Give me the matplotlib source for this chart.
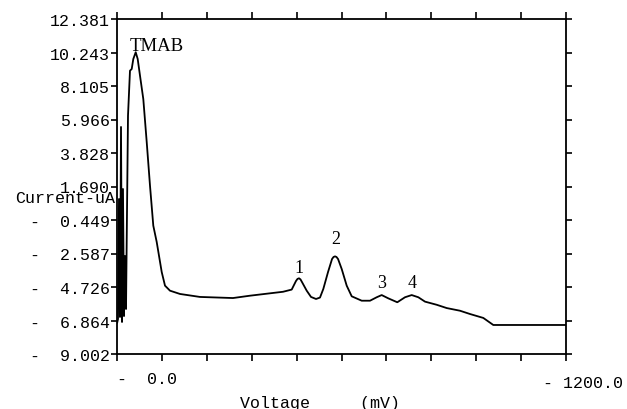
import numpy as np
import matplotlib.pyplot as plt
from matplotlib.transforms import ScaledTranslation

# voltage in mV (sweep runs 0 -> -1200, drawn as distance) and current in uA,
# read off the scanned recorder trace
voltage = [0.5, 2.7, 5.3, 8.0, 10.7, 13.4, 16.0, 18.7, 21.4, 24.1, 25.9, 29.4,
           34.7, 39.3, 43.6, 50.0, 55.3, 61.5, 70.3, 79.4, 88.2, 97.0, 106.1,
           119.5, 128.3, 141.6, 168.4, 221.8, 310.0, 355.5, 443.7, 466.9,
           478.4, 482.4, 486.4, 490.4, 494.4, 507.0, 518.5, 531.9, 542.5,
           551.4, 564.0, 574.7, 578.7, 582.7, 586.6, 590.8, 600.6, 613.9,
           627.3, 654.0, 676.2, 694.1, 707.4, 725.1, 749.1, 769.7, 787.6,
           805.3, 823.2, 854.4, 881.2, 916.7, 943.5, 979.0, 1005.7, 1200.0]
current = [-7.0, -6.77, 0.89, -6.64, 5.49, -6.96, 1.53, -6.58, -2.75, -6.13,
           -1.85, 6.21, 9.08, 9.19, 9.83, 10.26, 9.83, 8.76, 7.27, 4.53, 1.74,
           -0.81, -1.85, -3.77, -4.64, -4.96, -5.17, -5.36, -5.43, -5.28,
           -5.03, -4.89, -4.34, -4.21, -4.17, -4.24, -4.41, -4.96, -5.36,
           -5.49, -5.40, -4.85, -3.77, -2.94, -2.81, -2.77, -2.81, -2.94,
           -3.58, -4.64, -5.32, -5.60, -5.60, -5.38, -5.24, -5.45, -5.70,
           -5.38, -5.24, -5.38, -5.66, -5.86, -6.07, -6.24, -6.45, -6.70,
           -7.15, -7.15]

y_ticks = np.linspace(-9.002, 12.381, 11)
y_labels = ['-  9.002', '-  6.864', '-  4.726', '-  2.587', '-  0.449',
            '1.690', '3.828', '5.966', '8.105', '10.243', '12.381']
x_ticks = np.arange(0, 1201, 120)

peak_names = ['1', '2', '3', '4']
peak_x = [486, 585, 706, 789]
peak_y = [-3.45, -1.66, -4.47, -4.47]

mono = 'Liberation Mono'
serif = 'Liberation Serif'

fig = plt.figure(figsize=(6.27, 4.10), dpi=100)
ax = fig.add_axes([117/627, 1 - 355/410, 449/627, 335/410])

ax.plot(voltage, current, color='black', lw=1.3)
ax.set_xlim(0, 1200)
ax.set_ylim(-9.002, 12.381)

for s in ax.spines.values():
    s.set_linewidth(1.3)

# left axis: labelled ticks
ax.set_yticks(y_ticks)
ax.set_yticklabels(y_labels, fontfamily=mono, fontsize=12)
ax.tick_params(axis='y', direction='out', length=4, width=1.2, pad=1,
               right=True)

# bottom axis: only the two end values are printed
ax.set_xticks(x_ticks)
xl = [''] * len(x_ticks)
xl[0] = '-  0.0'
xl[-1] = '- 1200.0'
ax.set_xticklabels(xl, fontfamily=mono, fontsize=12)
ax.tick_params(axis='x', direction='out', length=5, width=1.2, pad=7,
               top=True)
labs = ax.get_xticklabels()
labs[0].set_horizontalalignment('left')
labs[-1].set_horizontalalignment('left')
labs[-1].set_transform(labs[-1].get_transform() +
                       ScaledTranslation(-0.23, -0.04, fig.dpi_scale_trans))

ax.set_ylabel('Current-uA', fontfamily=mono, fontsize=12, rotation=0,
              ha='right', va='center')
ax.yaxis.set_label_coords(-0.004, 0.468)
ax.set_xlabel('Voltage     (mV)', fontfamily=mono, fontsize=12, va='center')
ax.xaxis.set_label_coords(0.452, -0.146)

ax.text(35, 10.66, 'TMAB', fontfamily=serif, fontsize=13.5, va='center')
for name, px, py in zip(peak_names, peak_x, peak_y):
    ax.text(px, py, name, fontfamily=serif, fontsize=13, ha='center',
            va='center')

fig.savefig('out.png', dpi=100)
